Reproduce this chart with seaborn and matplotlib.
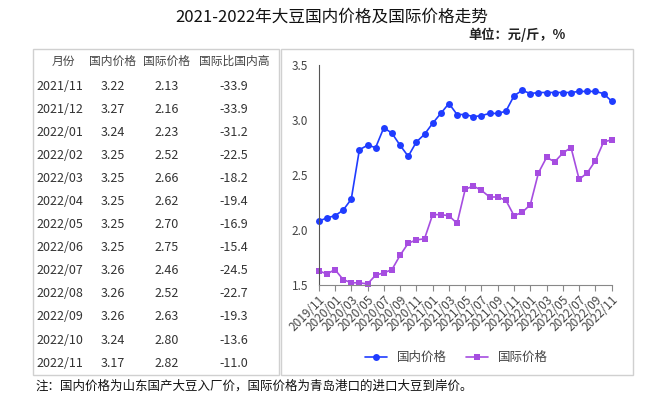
import numpy as np
import pandas as pd
import matplotlib
matplotlib.use('Agg')
import matplotlib.pyplot as plt
import seaborn as sns
from matplotlib.patches import Rectangle

sns.set_style('white')
plt.rcParams['font.family'] = ['Noto Sans CJK SC', 'DejaVu Sans']

# table data
table_months = ['2021/11', '2021/12', '2022/01', '2022/02', '2022/03', '2022/04', '2022/05',
                '2022/06', '2022/07', '2022/08', '2022/09', '2022/10', '2022/11']
table_domestic = ['3.22', '3.27', '3.24', '3.25', '3.25', '3.25', '3.25',
                  '3.25', '3.26', '3.26', '3.26', '3.24', '3.17']
table_intl = ['2.13', '2.16', '2.23', '2.52', '2.66', '2.62', '2.70',
              '2.75', '2.46', '2.52', '2.63', '2.80', '2.82']
table_diff = ['-33.9', '-33.9', '-31.2', '-22.5', '-18.2', '-19.4', '-16.9',
              '-15.4', '-24.5', '-22.7', '-19.3', '-13.6', '-11.0']
table_header = ['月份', '国内价格', '国际价格', '国际比国内高']

# chart data, 2019/11 .. 2022/11
months = pd.period_range('2019-11', '2022-11', freq='M').strftime('%Y/%m').tolist()
domestic = [2.08, 2.11, 2.13, 2.18, 2.28, 2.73, 2.77, 2.75, 2.93, 2.88, 2.77, 2.67,
            2.80, 2.87, 2.97, 3.06, 3.15, 3.05, 3.05, 3.03, 3.04, 3.06, 3.06, 3.08,
            3.22, 3.27, 3.24, 3.25, 3.25, 3.25, 3.25, 3.25, 3.26, 3.26, 3.26, 3.24, 3.17]
international = [1.63, 1.60, 1.64, 1.55, 1.52, 1.52, 1.51, 1.59, 1.61, 1.64, 1.77, 1.88,
                 1.91, 1.92, 2.14, 2.14, 2.13, 2.06, 2.37, 2.40, 2.36, 2.30, 2.30, 2.27,
                 2.13, 2.16, 2.23, 2.52, 2.66, 2.62, 2.70, 2.75, 2.46, 2.52, 2.63, 2.80, 2.82]

W, H = 668, 403
fig = plt.figure(figsize=(W / 100, H / 100), dpi=100)


def fx(x):
    return x / W


def fy(y):
    return 1 - y / H


# title and unit
fig.text(fx(332), fy(17), '2021-2022年大豆国内价格及国际价格走势', ha='center', va='center',
         fontsize=12, color='#111111')
fig.text(fx(566), fy(35), '单位：元/斤，%', ha='right', va='center', fontsize=9.5,
         color='#222222', fontweight='semibold')

# boxes
fig.patches.append(Rectangle((fx(33), fy(375)), fx(279) - fx(33), fy(49) - fy(375),
                             transform=fig.transFigure, fill=False, ec='#d0d0d0', lw=1))
fig.patches.append(Rectangle((fx(281), fy(375)), fx(633) - fx(281), fy(49) - fy(375),
                             transform=fig.transFigure, fill=False, ec='#d0d0d0', lw=1))

# table
col_x = [63, 113, 167, 234]
for cx, h in zip(col_x, table_header):
    fig.text(fx(cx), fy(61), h, ha='center', va='center', fontsize=8.5, color='#444444')
for i in range(len(table_months)):
    ry = 86 + i * 23.1
    fig.text(fx(36), fy(ry), table_months[i], ha='left', va='center', fontsize=9, color='#333333')
    fig.text(fx(col_x[1]), fy(ry), table_domestic[i], ha='center', va='center', fontsize=9, color='#333333')
    fig.text(fx(col_x[2]), fy(ry), table_intl[i], ha='center', va='center', fontsize=9, color='#333333')
    fig.text(fx(col_x[3]), fy(ry), table_diff[i], ha='center', va='center', fontsize=9, color='#333333')

# chart
ax = fig.add_axes([fx(318.7), fy(285), fx(611.7) - fx(318.7), fy(65) - fy(285)])
df = pd.DataFrame({'idx': np.arange(len(months)), 'month': months,
                   '国内价格': domestic, '国际价格': international})
sns.lineplot(data=df, x='idx', y='国内价格', ax=ax, color='#1f3cff', marker='o',
             markersize=5, markeredgewidth=0, lw=1.2, label='国内价格')
sns.lineplot(data=df, x='idx', y='国际价格', ax=ax, color='#a64de0', marker='s',
             markersize=4.5, markeredgewidth=0, lw=1.2, label='国际价格')
for line in ax.lines:
    line.set_clip_on(False)

ax.set_xlim(0, len(months) - 1)
ax.set_ylim(1.5, 3.5)
ax.set_yticks([1.5, 2.0, 2.5, 3.0, 3.5])
ax.set_yticklabels(['1.5', '2.0', '2.5', '3.0', '3.5'])
ax.set_xticks(df['idx'][::2])
ax.set_xticklabels(df['month'][::2], rotation=45, ha='right', rotation_mode='anchor')
ax.set_xlabel('')
ax.set_ylabel('')
for s in ['top', 'right']:
    ax.spines[s].set_visible(False)
ax.spines['left'].set_color('#555555')
ax.spines['bottom'].set_color('#888888')
ax.tick_params(axis='x', bottom=True, length=4, color='#888888', labelsize=8.5,
               labelcolor='#444444', pad=2)
ax.tick_params(axis='y', left=False, labelsize=8.5, labelcolor='#444444', pad=4)

ax.legend(loc='center', bbox_to_anchor=(0.47, -0.33), ncol=2, frameon=False,
          fontsize=9, handlelength=1.8, columnspacing=1.5, labelcolor='#444444')

# footnote
fig.text(fx(35), fy(386), '注：国内价格为山东国产大豆入厂价，国际价格为青岛港口的进口大豆到岸价。',
         ha='left', va='center', fontsize=9, color='#111111')

fig.savefig('out.png', dpi=100)
